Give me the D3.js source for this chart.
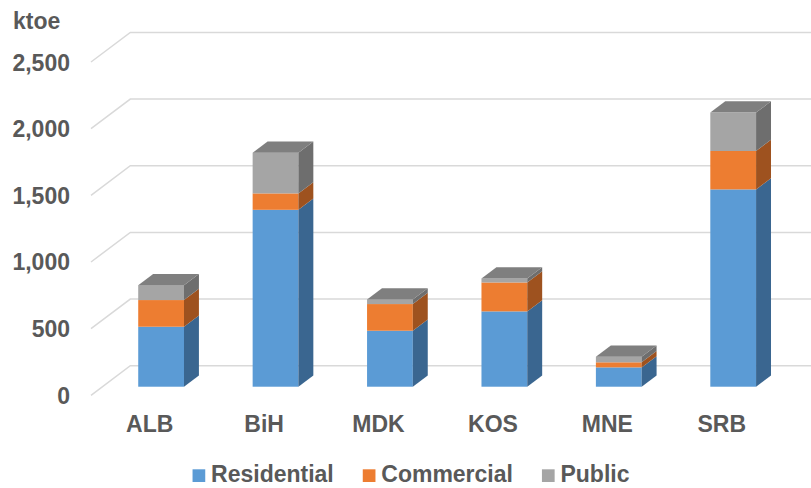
<!DOCTYPE html>
<html>
<head>
<meta charset="utf-8">
<script src="https://cdn.jsdelivr.net/npm/d3@7"></script>
<style>
	body { margin: 0; background: #fff; }
	text { font-family: "Liberation Sans", Arial, sans-serif; font-weight: bold; fill: #595959; }
</style>
</head>
<body>
<div id="chart"></div>
<script>
const categories = ['ALB', 'BiH', 'MDK', 'KOS', 'MNE', 'SRB']
const residential = [450, 1327, 420, 565, 145, 1480]
const commercial = [200, 123, 200, 217, 38, 288]
const publicSector = [112, 305, 35, 30, 42, 288]
const yTicks = [0, 500, 1000, 1500, 2000, 2500]
const seriesNames = ['Residential', 'Commercial', 'Public']

const width = 811, height = 488
const depth = [39.3, -29.6]     // floor depth (front -> back wall)
const barFront = 0.29           // where the bar front sits in the depth
const barDepth = 0.38

// front, side, top colours
const colors = [
	['#5b9bd5', '#3a6690', '#4a80b0'],
	['#ed7d31', '#9e521f', '#b8612a'],
	['#a5a5a5', '#6e6e6e', '#7f7f7f']
]

const svg = d3.select('#chart').append('svg')
	.attr('width', width)
	.attr('height', height)

const x = d3.scaleBand()
	.domain(categories)
	.range([92.5, 779])
	.paddingInner(0.6)
	.paddingOuter(0.3)

const y = d3.scaleLinear()
	.domain([0, 2500])
	.range([395.3, 62])

// gridlines: diagonal on the floor side wall + horizontal on the back wall
const grid = svg.append('g')
yTicks.forEach(t => {
	const y0 = y(t)
	grid.append('path')
		.attr('d', `M91,${y0}L${91 + depth[0]},${y0 + depth[1]}L${width},${y0 + depth[1]}`)
		.attr('fill', 'none')
		.attr('stroke', '#d9d9d9')
		.attr('stroke-width', 1.5)
})

// y labels
svg.append('g').selectAll('text')
	.data(yTicks)
	.enter()
	.append('text')
	.attr('x', 70)
	.attr('y', d => y(d) + 8.5)
	.attr('text-anchor', 'end')
	.style('font-size', '23px')
	.text(d3.format(','))

svg.append('text')
	.attr('x', 13)
	.attr('y', 28.5)
	.style('font-size', '23px')
	.text('ktoe')

// stacked 3d bars
const rows = categories.map((c, i) => ({ cat: c, Residential: residential[i], Commercial: commercial[i], Public: publicSector[i] }))
const stack = d3.stack().keys(seriesNames)(rows)

const ox = depth[0] * barFront, oy = depth[1] * barFront
const bx = depth[0] * barDepth, by = depth[1] * barDepth

const bars = svg.append('g')
categories.forEach((c, i) => {
	const xl = x(c) + ox
	const xr = xl + x.bandwidth()
	const g = bars.append('g')
	stack.forEach((s, k) => {
		const y0 = y(s[i][0]) + oy
		const y1 = y(s[i][1]) + oy
		if (y0 - y1 <= 0) return
		g.append('rect')
			.attr('x', xl)
			.attr('y', y1)
			.attr('width', xr - xl)
			.attr('height', y0 - y1)
			.attr('fill', colors[k][0])
		g.append('path')
			.attr('d', `M${xr},${y1}L${xr + bx},${y1 + by}L${xr + bx},${y0 + by}L${xr},${y0}Z`)
			.attr('fill', colors[k][1])
	})
	// top face
	const top = stack[stack.length - 1][i][1]
	const yt = y(top) + oy
	g.append('path')
		.attr('d', `M${xl},${yt}L${xl + bx},${yt + by}L${xr + bx},${yt + by}L${xr},${yt}Z`)
		.attr('fill', colors[2][2])
})

// category labels
svg.append('g').selectAll('text')
	.data(categories)
	.enter()
	.append('text')
	.attr('x', d => x(d) + x.bandwidth() / 2)
	.attr('y', 432)
	.attr('text-anchor', 'middle')
	.style('font-size', '23px')
	.text(d => d)

// legend
const legend = svg.append('g')
let lx = 0
seriesNames.forEach((name, k) => {
	const item = legend.append('g').attr('transform', `translate(${lx},0)`)
	item.append('rect')
		.attr('x', 0)
		.attr('y', -12.7)
		.attr('width', 12.7)
		.attr('height', 12.7)
		.attr('fill', colors[k][0])
	const t = item.append('text')
		.attr('x', 18.5)
		.attr('y', 0)
		.style('font-size', '23px')
		.text(name)
	lx += 18.5 + t.node().getComputedTextLength() + 29
})
const legendWidth = lx - 29
legend.attr('transform', `translate(${411 - legendWidth / 2},482)`)
</script>
</body>
</html>
